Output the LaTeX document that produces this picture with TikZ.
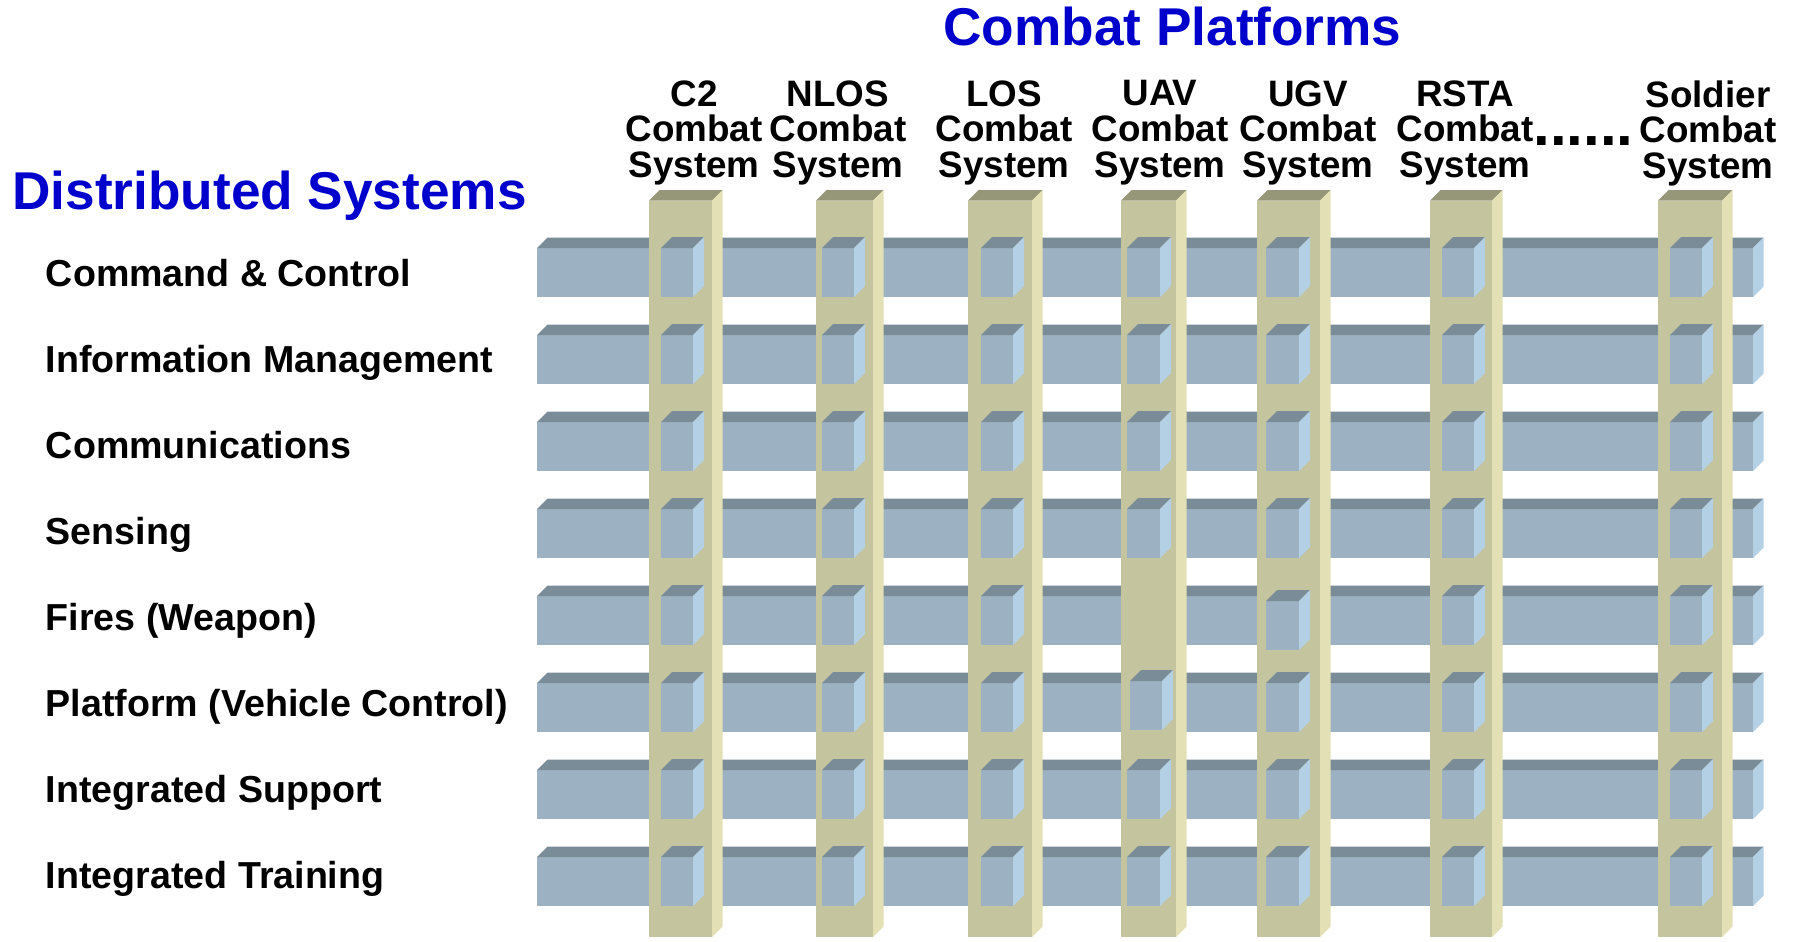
\documentclass[tikz,border=0pt]{standalone}
\usepackage{fontspec}
\setmainfont{Liberation Sans}

\definecolor{barfc}{RGB}{156,178,194}
\definecolor{bartc}{RGB}{122,140,152}
\definecolor{barsc}{RGB}{180,208,228}
\definecolor{colfc}{RGB}{196,196,158}
\definecolor{coltc}{RGB}{150,150,120}
\definecolor{colsc}{RGB}{226,224,180}
\definecolor{headblue}{RGB}{0,0,204}

% front, top and side face of one block, pixel units, y downwards
\newcommand{\blockthree}[6]{%
  \fill[#6front] (#1,#2) rectangle ({#1+#3},{#2+#4});
  \fill[#6top] (#1,#2) -- ({#1+#5},{#2-#5}) -- ({#1+#3+#5},{#2-#5}) -- ({#1+#3},#2) -- cycle;
  \fill[#6side] ({#1+#3},#2) -- ({#1+#3+#5},{#2-#5}) -- ({#1+#3+#5},{#2+#4-#5}) -- ({#1+#3},{#2+#4}) -- cycle;
}

\tikzset{
  barfront/.style={fill=barfc},
  bartop/.style={fill=bartc},
  barside/.style={fill=barsc},
  colfront/.style={fill=colfc},
  coltop/.style={fill=coltc},
  colside/.style={fill=colsc},
  title/.style={text=headblue, font=\fontsize{26.6}{27}\selectfont\bfseries, inner sep=0pt},
  rowlabel/.style={anchor=base west, font=\fontsize{18.8}{18}\selectfont\bfseries, inner sep=0pt},
  colhead/.style={anchor=north, align=center, font=\fontsize{18.4}{17.9}\selectfont\bfseries, inner sep=0pt}
}

\begin{document}
\begin{tikzpicture}[x=0.5pt,y=-0.5pt]
\useasboundingbox (0,0) rectangle (1794,942);

% titles
\node[title, anchor=base] (platforms) at (1172.5,45.7) {Combat Platforms};
\node[title, anchor=base west] (distributed) at (12,209) {Distributed Systems};

% column heads
\node[colhead] (hc2) at (694,80) {C2\\Combat\\System};
\node[colhead] (hnlos) at (838,80) {NLOS\\Combat\\System};
\node[colhead] (hlos) at (1004,80) {LOS\\Combat\\System};
\node[colhead] (huav) at (1160,80) {UAV\\Combat\\System};
\node[colhead] (hugv) at (1308,80) {UGV\\Combat\\System};
\node[colhead] (hrsta) at (1465,80) {RSTA\\Combat\\System};
\node[colhead] (hsoldier) at (1708,80) {Soldier\\Combat\\System};
\node[anchor=base, inner sep=0pt, font=\fontsize{30}{30}\selectfont\bfseries] (dots) at (1583.5,145) {......};

% row labels
\node[rowlabel] (rcc) at (45.5,286.7) {Command \& Control};
\node[rowlabel] (rim) at (45.5,372.7) {Information Management};
\node[rowlabel] (rcom) at (45.5,458.7) {Communications};
\node[rowlabel] (rsen) at (45.5,544.7) {Sensing};
\node[rowlabel] (rfir) at (45.5,630.7) {Fires (Weapon)};
\node[rowlabel] (rpla) at (45.5,716.7) {Platform (Vehicle Control)};
\node[rowlabel] (rsup) at (45.5,802.7) {Integrated Support};
\node[rowlabel] (rtra) at (45.5,888.7) {Integrated Training};

% horizontal bars
\foreach \r in {0,...,7} {
  \blockthree{537}{248+87*\r}{1216}{49}{10.5}{bar}
}

% columns
\foreach \cx/\cw in {649/63,816/57,968/64,1121/55,1257/63,1430/62,1658/64} {
  \blockthree{\cx}{200.5}{\cw}{736.5}{10.5}{col}
}

% cubes
\foreach \cx in {661,822,981,1442,1670} {
  \foreach \r in {0,...,7} {
    \blockthree{\cx}{248+87*\r}{32}{49}{11}{bar}
  }
}
\foreach \r in {0,1,2,3,6,7} {
  \blockthree{1127}{248+87*\r}{33}{49}{11}{bar}
}
\blockthree{1130}{681}{32}{49}{11}{bar}
\foreach \r in {0,1,2,3,5,6,7} {
  \blockthree{1266}{248+87*\r}{33}{49}{11}{bar}
}
\blockthree{1266}{601}{33}{49}{11}{bar}
\end{tikzpicture}
\end{document}
